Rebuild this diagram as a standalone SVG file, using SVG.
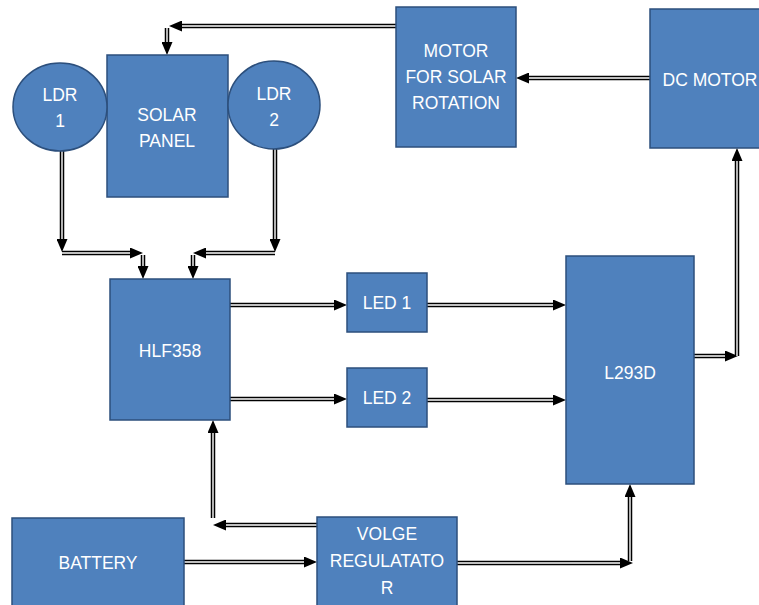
<svg xmlns="http://www.w3.org/2000/svg" width="759" height="605" viewBox="0 0 759 605">
<style>
.n{fill:#4F81BD;stroke:#2C4F7C;stroke-width:1.5}
.t{fill:#fff;font-family:"Liberation Sans",Arial,sans-serif;font-size:17.5px;text-anchor:middle}
.cb{fill:none;stroke:#000;stroke-width:4.5}
.cw{fill:none;stroke:#fff;stroke-width:1.4;marker-end:url(#ah)}
</style>
<defs>
<marker id="ah" markerUnits="userSpaceOnUse" viewBox="0 0 13 11" markerWidth="13" markerHeight="11" refX="4" refY="5.5" orient="auto">
<path d="M0,0 L13,5.5 L0,11 z" fill="#000"/>
</marker>
</defs>
<rect width="759" height="605" fill="#fff"/>
<g id="connectors">
<g id="c-motor-solar"><path class="cb" d="M396,26 L178,26"/><path class="cw" d="M396,26 L178,26"/><path class="cb" d="M167,28 L167,46"/><path class="cw" d="M167,28 L167,46"/></g>
<g id="c-dc-motor"><path class="cb" d="M650,78 L525,78"/><path class="cw" d="M650,78 L525,78"/></g>
<g id="c-ldr1-hlf"><path class="cb" d="M62,151 L62,243"/><path class="cw" d="M62,151 L62,243"/><path class="cb" d="M62,253 L134,253"/><path class="cw" d="M62,253 L134,253"/><path class="cb" d="M143,255 L143,270"/><path class="cw" d="M143,255 L143,270"/></g>
<g id="c-ldr2-hlf"><path class="cb" d="M275,149 L275,243"/><path class="cw" d="M275,149 L275,243"/><path class="cb" d="M275,253 L202,253"/><path class="cw" d="M275,253 L202,253"/><path class="cb" d="M193,255 L193,270"/><path class="cw" d="M193,255 L193,270"/></g>
<g id="c-hlf-led1"><path class="cb" d="M230,305 L338,305"/><path class="cw" d="M230,305 L338,305"/></g>
<g id="c-hlf-led2"><path class="cb" d="M230,399 L338,399"/><path class="cw" d="M230,399 L338,399"/></g>
<g id="c-led1-l293"><path class="cb" d="M427,305 L557,305"/><path class="cw" d="M427,305 L557,305"/></g>
<g id="c-led2-l293"><path class="cb" d="M427,400 L557,400"/><path class="cw" d="M427,400 L557,400"/></g>
<g id="c-l293-dc"><path class="cb" d="M694,356 L729,356"/><path class="cw" d="M694,356 L729,356"/><path class="cb" d="M737,356 L737,157"/><path class="cw" d="M737,356 L737,157"/></g>
<g id="c-bat-vr"><path class="cb" d="M184,562 L308,562"/><path class="cw" d="M184,562 L308,562"/></g>
<g id="c-vr-hlf"><path class="cb" d="M317,525 L222,525"/><path class="cw" d="M317,525 L222,525"/><path class="cb" d="M213,518 L213,429"/><path class="cw" d="M213,518 L213,429"/></g>
<g id="c-vr-l293"><path class="cb" d="M457,563 L624,563"/><path class="cw" d="M457,563 L624,563"/><path class="cb" d="M630,561 L630,493"/><path class="cw" d="M630,561 L630,493"/></g>
</g>
<g id="solar-panel"><rect class="n" x="107" y="55" width="121" height="142"/><text class="t" x="167" y="121">SOLAR</text><text class="t" x="167" y="147">PANEL</text></g>
<g id="ldr1"><ellipse class="n" cx="60" cy="107" rx="47" ry="44"/><text class="t" x="60" y="101">LDR</text><text class="t" x="60" y="127">1</text></g>
<g id="ldr2"><ellipse class="n" cx="274" cy="105" rx="46" ry="44"/><text class="t" x="274" y="100">LDR</text><text class="t" x="274" y="126">2</text></g>
<g id="motor-solar"><rect class="n" x="396" y="7" width="120" height="140"/><text class="t" x="456" y="57">MOTOR</text><text class="t" x="456" y="83">FOR SOLAR</text><text class="t" x="456" y="109">ROTATION</text></g>
<g id="dc-motor"><rect class="n" x="650" y="9" width="120" height="139"/><text class="t" x="710" y="86">DC MOTOR</text></g>
<g id="hlf358"><rect class="n" x="110" y="279" width="120" height="141"/><text class="t" x="170" y="357">HLF358</text></g>
<g id="led1"><rect class="n" x="347" y="273" width="80" height="59"/><text class="t" x="387" y="309">LED 1</text></g>
<g id="led2"><rect class="n" x="347" y="368" width="80" height="59"/><text class="t" x="387" y="404">LED 2</text></g>
<g id="l293d"><rect class="n" x="566" y="256" width="128" height="228"/><text class="t" x="630" y="379">L293D</text></g>
<g id="battery"><rect class="n" x="12" y="518" width="172" height="95"/><text class="t" x="98" y="569">BATTERY</text></g>
<g id="voltage-regulator"><rect class="n" x="317" y="517" width="140" height="96"/><text class="t" x="387" y="540">VOLGE</text><text class="t" x="387" y="567">REGULATATO</text><text class="t" x="387" y="594">R</text></g>
</svg>
